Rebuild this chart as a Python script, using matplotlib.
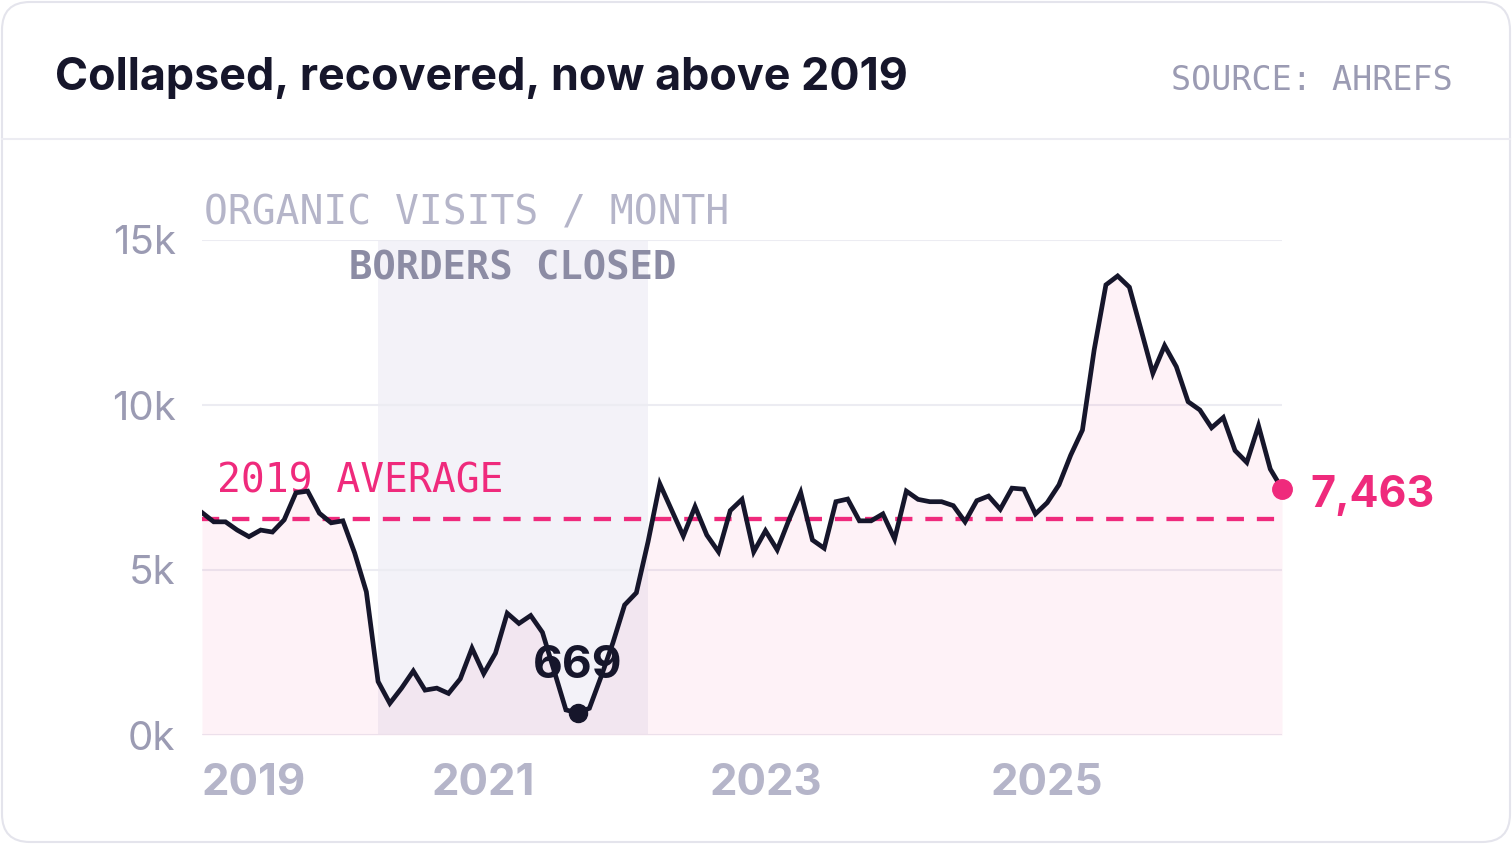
import numpy as np
import matplotlib.pyplot as plt
from matplotlib.patches import FancyBboxPatch

# monthly organic visits, Jan 2019 .. Sep 2026
months = np.arange(93)
visits = [6740, 6460, 6460, 6210, 6010, 6210, 6150, 6520, 7340, 7390, 6720, 6430,
          6490, 5520, 4340, 1620, 960, 1420, 1940, 1360, 1420, 1260, 1700, 2630,
          1860, 2480, 3690, 3380, 3620, 3110, 1940, 760, 669, 810, 1770, 2790,
          3940, 4310, 5860, 7610, 6820, 6030, 6920, 6060, 5550, 6800, 7140, 5550,
          6190, 5610, 6520, 7350, 5910, 5660, 7070, 7150, 6490, 6490, 6700, 5940,
          7390, 7140, 7070, 7070, 6950, 6460, 7100, 7240, 6840, 7480, 7450, 6700,
          7040, 7580, 8480, 9240, 11670, 13640, 13910, 13570, 12270, 10960, 11800, 11160,
          10100, 9850, 9310, 9620, 8620, 8260, 9370, 8060, 7463]
year_ticks = [0, 24, 48, 72]
year_labels = ['2019', '2021', '2023', '2025']
y_ticks = [0, 5000, 10000, 15000]
y_labels = ['0k', '5k', '10k', '15k']
closed_start, closed_end = 15, 38   # Apr 2020 .. Mar 2022

avg_2019 = np.mean(visits[:12])
low_i = int(np.argmin(visits))

dark = '#16162b'
pink = '#ef2a7c'
mono = 'DejaVu Sans Mono'

fig = plt.figure(figsize=(15.12, 8.44), dpi=100)

# card background, drawn in pixel units
bg = fig.add_axes([0, 0, 1, 1])
bg.set_xlim(0, 1512)
bg.set_ylim(844, 0)
bg.axis('off')
bg.add_patch(FancyBboxPatch((2, 2), 1508, 840, boxstyle='round,pad=0,rounding_size=28',
                            fc='white', ec='#e4e4ec', lw=1.5))
bg.plot([2, 1510], [139, 139], color='#ececf2', lw=1.5)
bg.text(55, 90, 'Collapsed, recovered, now above 2019', family='Inter', weight='bold',
        fontsize=32.3, color=dark, va='baseline')
bg.text(1453, 90, 'SOURCE: AHREFS', family=mono, fontsize=24, color='#9b9bb3',
        ha='right', va='baseline')
bg.text(204, 225, 'ORGANIC VISITS / MONTH', family=mono, fontsize=28.5, color='#b5b5c9',
        va='baseline')

ax = fig.add_axes([202 / 1512, 109 / 844, 1080 / 1512, 495 / 844])
ax.set_facecolor('none')
ax.set_xlim(0, 92)
ax.set_ylim(0, 15000)
for s in ax.spines.values():
    s.set_visible(False)

ax.axvspan(closed_start, closed_end, color='#f3f2f8', lw=0, zorder=0)
ax.text((closed_start + closed_end) / 2, 13800, 'BORDERS CLOSED', family=mono,
        weight='bold', fontsize=28, color='#8c8ca4', ha='center', va='baseline')

ax.set_yticks(y_ticks, y_labels)
ax.yaxis.grid(True, color='#ececf2', lw=1.5, zorder=0)
ax.set_axisbelow(True)
ax.set_xticks(year_ticks, year_labels)
ax.tick_params(axis='y', length=0, pad=19, labelsize=29, labelcolor='#9b9bb3')
ax.tick_params(axis='x', length=0, pad=20, labelsize=31.5, labelcolor='#b5b5c9')
for lab in ax.get_yticklabels():
    lab.set_family('Inter')
for lab in ax.get_xticklabels():
    lab.set_family('Inter')
    lab.set_weight('bold')
ax.get_xticklabels()[0].set_ha('left')

ax.fill_between(months, visits, 0, color=pink, alpha=0.06, lw=0, zorder=1)
ax.axhline(avg_2019, color=pink, lw=3.1, dashes=(4, 3), zorder=2)
ax.text(1.3, 7360, '2019 AVERAGE', family=mono, fontsize=28.5, color=pink, va='baseline')
ax.plot(months, visits, color=dark, lw=3.4, solid_joinstyle='miter', zorder=3)

ax.plot(low_i, visits[low_i], 'o', ms=13, color=dark, zorder=4, clip_on=False)
ax.annotate(f'{visits[low_i]:,}', (low_i, visits[low_i]), xytext=(0, 35),
            textcoords='offset pixels', ha='center', va='baseline', family='Inter',
            weight='bold', fontsize=33, color=dark, zorder=5)

ax.plot(months[-1], visits[-1], 'o', ms=14, color=pink, zorder=4, clip_on=False)
ax.annotate(f'{visits[-1]:,}', (months[-1], visits[-1]), xytext=(28, -18),
            textcoords='offset pixels', ha='left', va='baseline', family='Inter',
            weight='bold', fontsize=31, color=pink, annotation_clip=False)

fig.savefig('out.png', dpi=100)
